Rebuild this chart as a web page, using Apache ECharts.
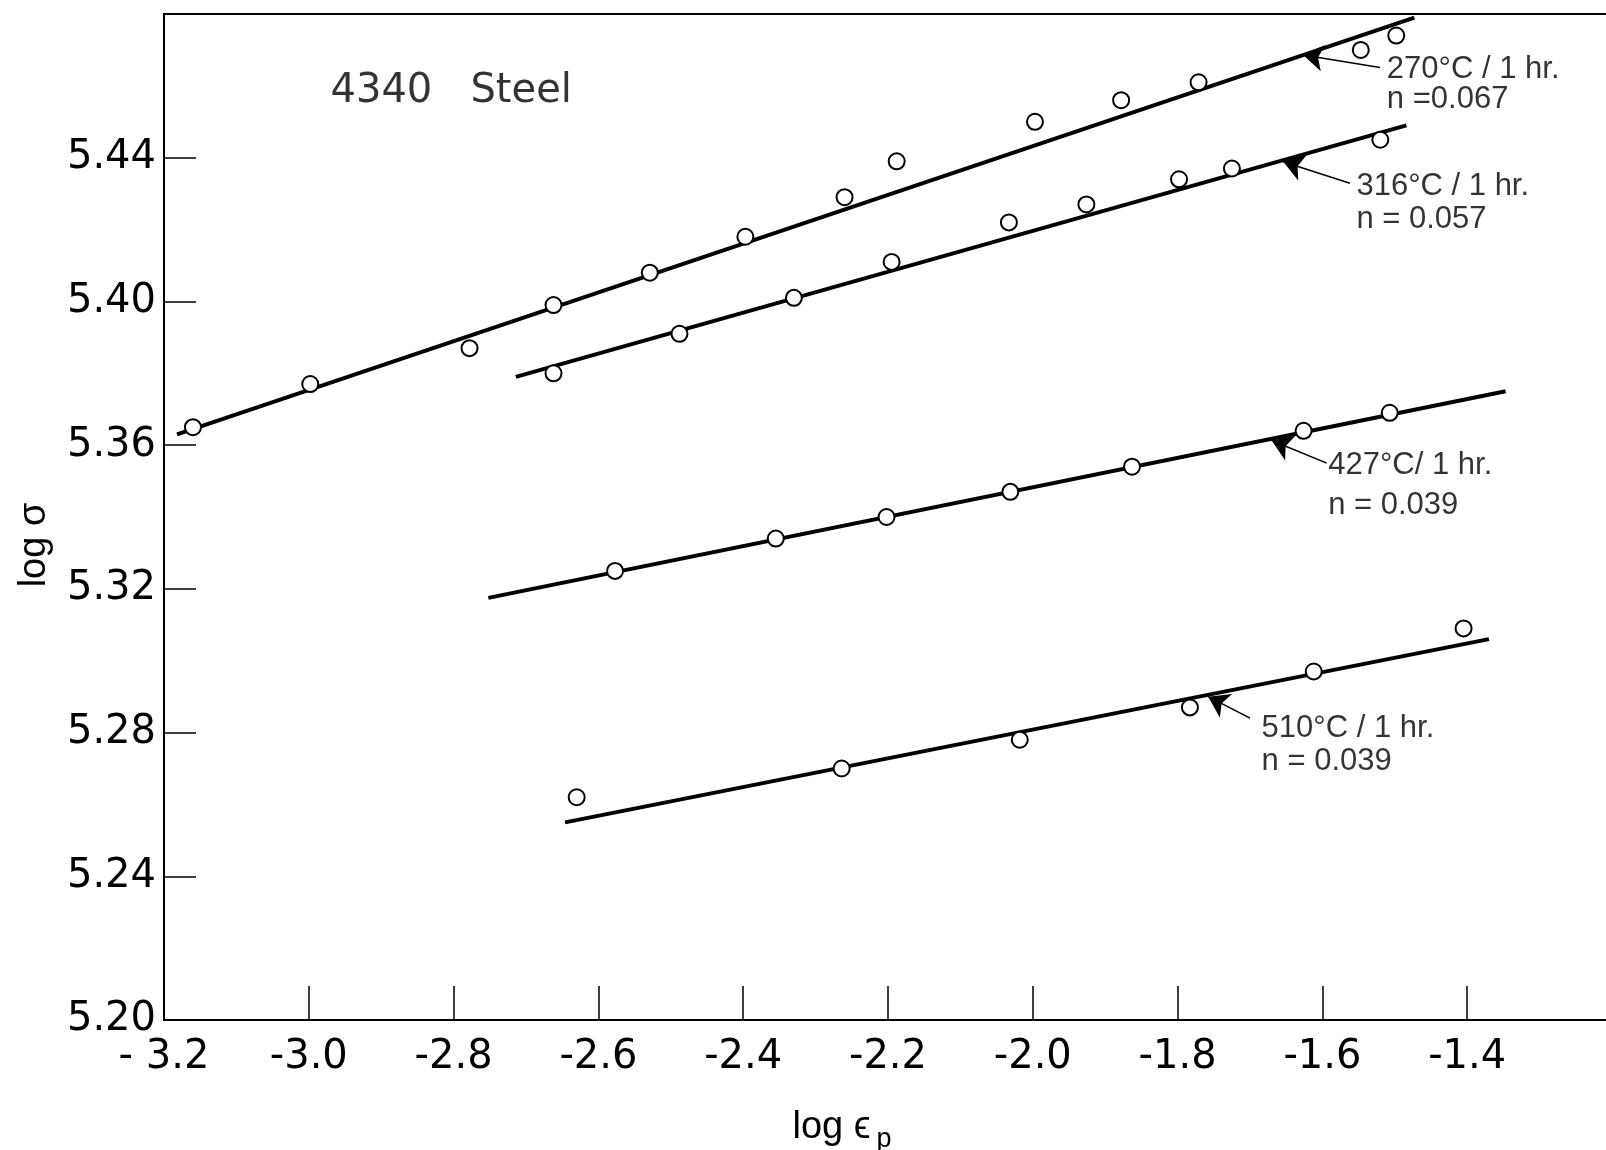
<!DOCTYPE html>
<html>
<head>
<meta charset="utf-8">
<script src="https://cdn.jsdelivr.net/npm/echarts@6/dist/echarts.min.js"></script>
<style>
  html, body { margin: 0; padding: 0; background: #fff; }
  #chart { width: 1606px; height: 1150px; }
</style>
</head>
<body>
<div id="chart"></div>
<script>
// ---- Data (log strain, log stress) ----
const pts270 = [[-3.160,5.365],[-2.998,5.377],[-2.778,5.387],[-2.662,5.399],[-2.529,5.408],[-2.397,5.418],[-2.260,5.429],[-2.188,5.439],[-1.997,5.450],[-1.878,5.456],[-1.771,5.461],[-1.547,5.470],[-1.498,5.474]];
const pts316 = [[-2.662,5.380],[-2.488,5.391],[-2.330,5.401],[-2.195,5.411],[-2.033,5.422],[-1.926,5.427],[-1.798,5.434],[-1.725,5.437],[-1.520,5.445]];
const pts427 = [[-2.577,5.325],[-2.355,5.334],[-2.202,5.340],[-2.031,5.347],[-1.863,5.354],[-1.626,5.364],[-1.507,5.369]];
const pts510 = [[-2.630,5.262],[-2.264,5.270],[-2.018,5.278],[-1.783,5.287],[-1.612,5.297],[-1.405,5.309]];

// fitted lines (end points)
const fit270 = [[-3.182,5.363],[-1.473,5.479]];
const fit316 = [[-2.714,5.379],[-1.484,5.449]];
const fit427 = [[-2.752,5.3175],[-1.347,5.375]];
const fit510 = [[-2.646,5.255],[-1.370,5.306]];

// annotations
const annoText = [
  "270°C / 1 hr.\nn =0.067",
  "316°C / 1 hr.\nn = 0.057",
  "427°C/ 1 hr.\nn = 0.039",
  "510°C / 1 hr.\nn = 0.039"
];
const annoAt = [[-1.511,5.4603],[-1.553,5.4273],[-1.592,5.3489],[-1.684,5.2765]];
const annoLineH = [30, 33, 40, 33];
const arrowFrom = [[-1.5205,5.4651],[-1.562,5.4329],[-1.594,5.3550],[-1.700,5.2840]];
const arrowTo = [[-1.6265,5.4686],[-1.654,5.4389],[-1.670,5.3613],[-1.7577,5.2900]];

const xTicks = { min: -3.2, max: -1.2, interval: 0.2 };
const yTicks = { min: 5.20, max: 5.48, interval: 0.04 };
const title = "4340   Steel";
const titleAt = [-2.97, 5.4585];

const FONT = "Liberation Sans";
const TICKFONT = "DejaVu Sans";
const chart = echarts.init(document.getElementById('chart'), null, { renderer: 'canvas' });

function scatter(name, data) {
  return {
    name, type: 'scatter', data, z: 5,
    symbol: 'circle', symbolSize: 16,
    itemStyle: { color: '#fff', borderColor: '#000', borderWidth: 2, opacity: 1 },
    emphasis: { disabled: true }
  };
}
function fit(name, data) {
  return {
    name, type: 'line', data, z: 3, showSymbol: false, symbol: 'none',
    lineStyle: { color: '#000', width: 4 }, emphasis: { disabled: true }
  };
}

const option = {
  animation: false,
  backgroundColor: '#fff',
  grid: { left: 164, right: -6, top: 14, bottom: 130, containLabel: false, outerBoundsMode: 'none',
          show: true, borderColor: '#000', borderWidth: 2, backgroundColor: 'transparent' },
  xAxis: {
    type: 'value', min: xTicks.min, max: xTicks.max, interval: xTicks.interval,
    axisLine: { show: true, onZero: false, lineStyle: { color: '#000', width: 2 } },
    axisTick: { show: true, inside: true, length: 34, lineStyle: { color: '#000', width: 1.5 } },
    splitLine: { show: false },
    axisLabel: {
      margin: 18, color: '#000', fontFamily: TICKFONT, fontSize: 40,
      formatter: v => (Math.abs(v + 3.2) < 1e-6 ? '- 3.2' : (v > -1.3 ? '' : v.toFixed(1)))
    },
    name: 'log ϵ{s|p}', nameLocation: 'middle', nameGap: 82,
    nameTextStyle: {
      color: '#000', fontFamily: FONT, fontSize: 38, padding: [0, 92, 0, 0],
      rich: { s: { fontFamily: FONT, fontSize: 27, padding: [24, 0, 0, 6], color: '#000' } }
    }
  },
  yAxis: {
    type: 'value', min: yTicks.min, max: yTicks.max, interval: yTicks.interval,
    axisLine: { show: true, onZero: false, lineStyle: { color: '#000', width: 2 } },
    axisTick: { show: true, inside: true, length: 32, lineStyle: { color: '#000', width: 1.5 } },
    splitLine: { show: false },
    axisLabel: {
      margin: 8, color: '#000', fontFamily: TICKFONT, fontSize: 40,
      formatter: v => (v > 5.47 ? '' : v.toFixed(2))
    },
    name: 'log σ', nameLocation: 'middle', nameGap: 110, nameRotate: 90,
    nameTextStyle: { color: '#000', fontFamily: FONT, fontSize: 38, padding: [0, 56, 0, 0] }
  },
  series: [
    fit('fit270', fit270), fit('fit316', fit316), fit('fit427', fit427), fit('fit510', fit510),
    scatter('270°C', pts270), scatter('316°C', pts316), scatter('427°C', pts427), scatter('510°C', pts510),
    {
      type: 'lines', coordinateSystem: 'cartesian2d', z: 4, silent: true,
      symbol: ['none', 'arrow'], symbolSize: [0, 20],
      lineStyle: { color: '#000', width: 1.5, opacity: 1 },
      data: arrowFrom.map((f, i) => ({ coords: [f, arrowTo[i]] }))
    },
    {
      type: 'scatter', z: 6, silent: true, symbolSize: 0,
      data: annoAt.map((p, i) => ({
        value: p,
        label: { show: true, position: 'right', distance: 0, align: 'left',
                 formatter: annoText[i], lineHeight: annoLineH[i],
                 color: '#000', fontFamily: FONT, fontSize: 31 }
      }))
    },
    {
      type: 'scatter', z: 6, silent: true, symbolSize: 0,
      data: [{ value: titleAt, label: { show: true, position: 'right', distance: 0, formatter: title, color: '#000', fontFamily: TICKFONT, fontSize: 40 } }]
    }
  ]
};
chart.setOption(option);
</script>
</body>
</html>
